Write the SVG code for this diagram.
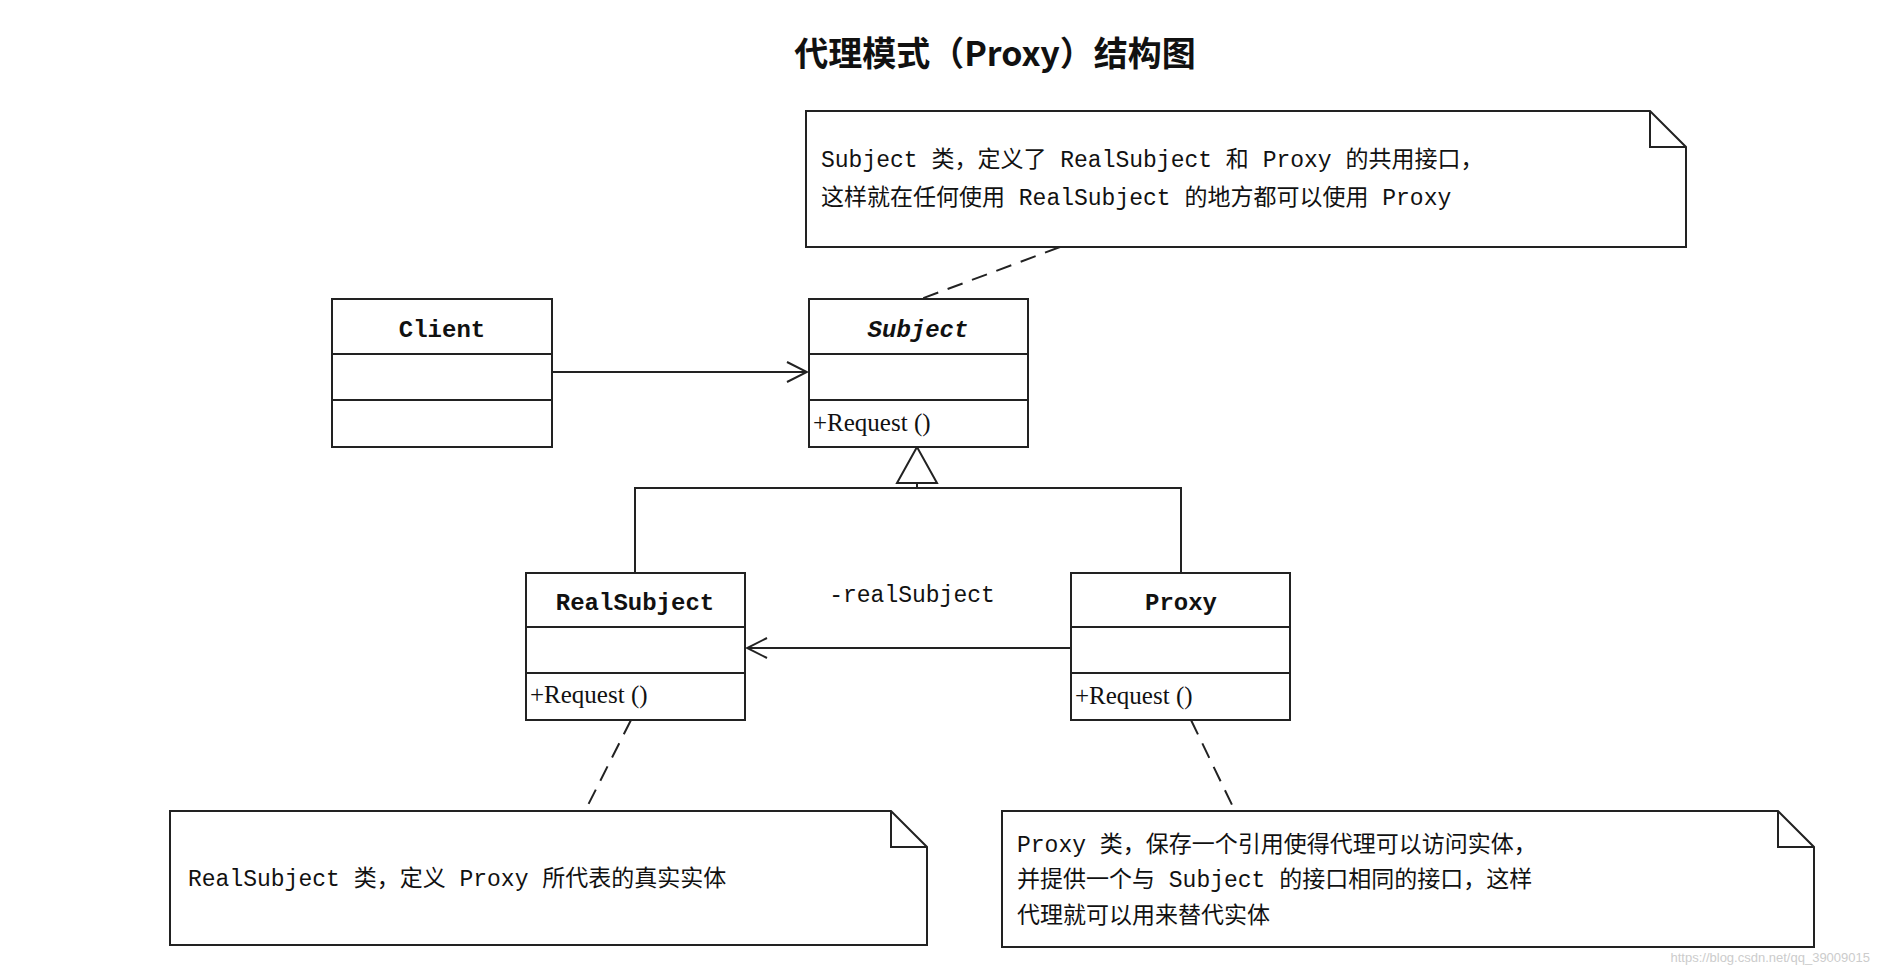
<svg xmlns="http://www.w3.org/2000/svg" width="1880" height="970" viewBox="0 0 1880 970">
<style>
.b{fill:#fff;stroke:#222;stroke-width:2}
.l{fill:none;stroke:#222;stroke-width:2}
.d{fill:none;stroke:#222;stroke-width:2;stroke-dasharray:16,10}
.t{font-family:"Liberation Mono","Noto Sans CJK SC",monospace;font-size:23px;fill:#111}
.n{font-family:"Liberation Mono","Noto Sans CJK SC",monospace;font-size:24px;font-weight:bold;fill:#111;text-anchor:middle}
.r{font-family:"Liberation Serif","Noto Sans CJK SC",serif;font-size:25px;fill:#111}
</style>
<defs>
<marker id="open" markerWidth="24" markerHeight="24" refX="22" refY="12" orient="auto" markerUnits="userSpaceOnUse"><path d="M2,2 L22,12 L2,22" fill="none" stroke="#222" stroke-width="2"/></marker>
</defs>
<rect width="1880" height="970" fill="#fff"/>
<text x="995" y="66" text-anchor="middle" style="font-family:'Noto Sans CJK SC',sans-serif;font-size:34px;font-weight:bold" fill="#111">代理模式（Proxy）结构图</text>
<g id="connectors">
<line class="l" x1="552" y1="372" x2="807" y2="372" marker-end="url(#open)"/>
<line class="l" x1="1071" y1="648" x2="747" y2="648" marker-end="url(#open)"/>
<polyline class="l" points="635,573 635,488 1181,488 1181,573"/>
<line class="l" x1="917" y1="483" x2="917" y2="488"/>
<polygon points="917,447 897,483 937,483" fill="#fff" stroke="#222" stroke-width="2"/>
<line class="d" x1="1060" y1="247" x2="921" y2="299"/>
<line class="d" x1="631" y1="720" x2="585" y2="811"/>
<line class="d" x1="1191" y1="720" x2="1235" y2="811"/>
<text class="t" x="912" y="602" text-anchor="middle">-realSubject</text>
</g>
<g id="note-subject">
<path class="b" d="M806,111 H1650 L1686,147 V247 H806 Z M1650,111 V147 H1686"/>
<text class="t" x="821" y="167">Subject 类，定义了 RealSubject 和 Proxy 的共用接口，</text>
<text class="t" x="821" y="205">这样就在任何使用 RealSubject 的地方都可以使用 Proxy</text>
</g>
<g id="client">
<rect class="b" x="332" y="299" width="220" height="148"/>
<line class="l" x1="332" y1="354" x2="552" y2="354"/><line class="l" x1="332" y1="400" x2="552" y2="400"/>
<text class="n" x="442" y="337">Client</text>
</g>
<g id="subject">
<rect class="b" x="809" y="299" width="219" height="148"/>
<line class="l" x1="809" y1="354" x2="1028" y2="354"/><line class="l" x1="809" y1="400" x2="1028" y2="400"/>
<text class="n" x="918" y="337" font-style="italic">Subject</text>
<text class="r" x="813" y="431">+Request ()</text>
</g>
<g id="realsubject">
<rect class="b" x="526" y="573" width="219" height="147"/>
<line class="l" x1="526" y1="627" x2="745" y2="627"/><line class="l" x1="526" y1="673" x2="745" y2="673"/>
<text class="n" x="635" y="610">RealSubject</text>
<text class="r" x="530" y="703">+Request ()</text>
</g>
<g id="proxy">
<rect class="b" x="1071" y="573" width="219" height="147"/>
<line class="l" x1="1071" y1="627" x2="1290" y2="627"/><line class="l" x1="1071" y1="673" x2="1290" y2="673"/>
<text class="n" x="1181" y="610">Proxy</text>
<text class="r" x="1075" y="704">+Request ()</text>
</g>
<g id="note-realsubject">
<path class="b" d="M170,811 H891 L927,847 V945 H170 Z M891,811 V847 H927"/>
<text class="t" x="188" y="886">RealSubject 类，定义 Proxy 所代表的真实实体</text>
</g>
<g id="note-proxy">
<path class="b" d="M1002,811 H1778 L1814,847 V947 H1002 Z M1778,811 V847 H1814"/>
<text class="t" x="1017" y="852">Proxy 类，保存一个引用使得代理可以访问实体，</text>
<text class="t" x="1017" y="887">并提供一个与 Subject 的接口相同的接口，这样</text>
<text class="t" x="1017" y="923">代理就可以用来替代实体</text>
</g>
<text x="1870" y="962" text-anchor="end" style="font-family:'Liberation Sans',sans-serif;font-size:13px" fill="#ccc">https://blog.csdn.net/qq_39009015</text>
</svg>
